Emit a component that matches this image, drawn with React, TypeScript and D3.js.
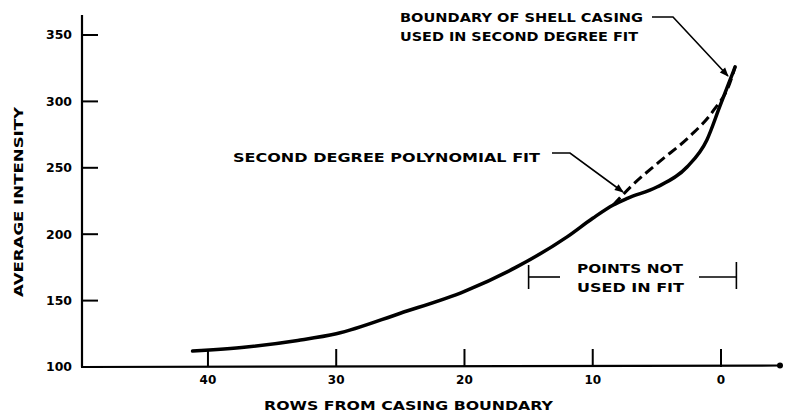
import * as d3 from "d3";

// measured curve (rows from casing boundary vs average intensity)
const rows = [41.2, 37, 33, 30, 25, 20, 16, 12, 10, 8.4, 7.3, 5, 2.65, 1.1, 0.1, -0.7, -1.1];
const intensity = [112, 115, 120, 125, 140.5, 157, 175, 198, 212, 222, 227, 235.5, 250.6, 271, 296, 316, 326];

// second degree fit (dashed)
const fitRows = [8.4, 6.9, 4.75, 2.4, 0.6, -0.7, -1.1];
const fitIntensity = [222, 237, 255, 274, 293, 314, 326];

const xTicks = [40, 30, 20, 10, 0];
const yTicks = [100, 150, 200, 250, 300, 350];

const fitStartRow = 15;
const boundaryRow = -1.2;

const W = 785;
const H = 414;
const FONT = "'DejaVu Sans', sans-serif";

export default function App() {
  const x = d3.scaleLinear().domain([49.82, -4.6]).range([82, 780]);
  const y = d3.scaleLinear().domain([100, 350]).range([367, 35]);

  const line = d3
    .line<number>()
    .x((d, i) => x(rows[i]))
    .y((d) => y(d))
    .curve(d3.curveMonotoneX);
  const fitLine = d3
    .line<number>()
    .x((d, i) => x(fitRows[i]))
    .y((d) => y(d))
    .curve(d3.curveMonotoneX);

  const x0 = x(49.82);
  const y0 = y(100);
  const bx0 = x(fitStartRow);
  const bx1 = x(boundaryRow);

  return (
    <svg
      width={W}
      height={H}
      style={{ position: "absolute", left: 0, top: 0, background: "#fff" }}
    >
      <defs>
        <marker
          id="arr"
          markerUnits="userSpaceOnUse"
          viewBox="0 0 10 10"
          refX="9"
          refY="5"
          markerWidth="11"
          markerHeight="9"
          orient="auto"
        >
          <path d="M0,1 L10,5 L0,9 z" fill="#000" />
        </marker>
      </defs>

      {/* axes */}
      <line x1={x0} y1={15} x2={x0} y2={y0} stroke="#000" strokeWidth={2.2} />
      <line x1={x0 - 1} y1={y0} x2={780} y2={y0 - 1.5} stroke="#000" strokeWidth={2.2} />
      <circle cx={780} cy={y0 - 1.5} r={3} fill="#000" />

      {yTicks.map((t) => (
        <g key={"y" + t}>
          {t !== 100 && (
            <line x1={x0} x2={x0 + 16} y1={y(t)} y2={y(t)} stroke="#000" strokeWidth={2} />
          )}
          <text
            x={72}
            y={y(t)}
            dy="0.36em"
            textAnchor="end"
            fontFamily={FONT}
            fontWeight="bold"
            fontSize={12}
            textLength={26}
            lengthAdjust="spacingAndGlyphs"
          >
            {t}
          </text>
        </g>
      ))}

      {xTicks.map((t) => (
        <g key={"x" + t}>
          <line x1={x(t)} x2={x(t)} y1={y0} y2={y0 - 18} stroke="#000" strokeWidth={2} />
          <text
            x={x(t)}
            y={380}
            dy="0.36em"
            textAnchor="middle"
            fontFamily={FONT}
            fontWeight="bold"
            fontSize={12}
          >
            {t}
          </text>
        </g>
      ))}

      <text
        x={264}
        y={405}
        dy="0.36em"
        fontFamily={FONT}
        fontWeight="bold"
        fontSize={13}
        textLength={289}
        lengthAdjust="spacingAndGlyphs"
      >
        ROWS FROM CASING BOUNDARY
      </text>
      <text
        transform="translate(18,202) rotate(-90)"
        textAnchor="middle"
        dy="0.36em"
        fontFamily={FONT}
        fontWeight="bold"
        fontSize={13}
        textLength={190}
        lengthAdjust="spacingAndGlyphs"
      >
        AVERAGE INTENSITY
      </text>

      {/* curves */}
      <path d={line(intensity) || ""} fill="none" stroke="#000" strokeWidth={3.5} strokeLinecap="round" />
      <path
        d={fitLine(fitIntensity) || ""}
        fill="none"
        stroke="#000"
        strokeWidth={3}
        strokeDasharray="10 5"
      />

      {/* annotations */}
      <text x={400} y={17.5} dy="0.36em" fontFamily={FONT} fontWeight="bold" fontSize={13}
        textLength={243} lengthAdjust="spacingAndGlyphs">
        BOUNDARY OF SHELL CASING
      </text>
      <text x={400} y={36} dy="0.36em" fontFamily={FONT} fontWeight="bold" fontSize={13}
        textLength={238} lengthAdjust="spacingAndGlyphs">
        USED IN SECOND DEGREE FIT
      </text>
      <path d="M652,17 L673,17 L728,76" fill="none" stroke="#000" strokeWidth={1.6} markerEnd="url(#arr)" />

      <text x={233} y={157.5} dy="0.36em" fontFamily={FONT} fontWeight="bold" fontSize={13}
        textLength={307} lengthAdjust="spacingAndGlyphs">
        SECOND DEGREE POLYNOMIAL FIT
      </text>
      <path d="M552,153 L570,153 L623,192" fill="none" stroke="#000" strokeWidth={1.6} markerEnd="url(#arr)" />

      <text x={577} y={269} dy="0.36em" fontFamily={FONT} fontWeight="bold" fontSize={12}
        textLength={106} lengthAdjust="spacingAndGlyphs">
        POINTS NOT
      </text>
      <text x={577} y={287.5} dy="0.36em" fontFamily={FONT} fontWeight="bold" fontSize={12}
        textLength={107} lengthAdjust="spacingAndGlyphs">
        USED IN FIT
      </text>
      <g stroke="#000" strokeWidth={1.6} fill="none">
        <line x1={bx0} x2={bx0} y1={265} y2={289} />
        <line x1={bx0} x2={560} y1={277} y2={277} />
        <line x1={699} x2={bx1} y1={277} y2={277} />
        <line x1={bx1} x2={bx1} y1={262} y2={289} />
      </g>
    </svg>
  );
}
